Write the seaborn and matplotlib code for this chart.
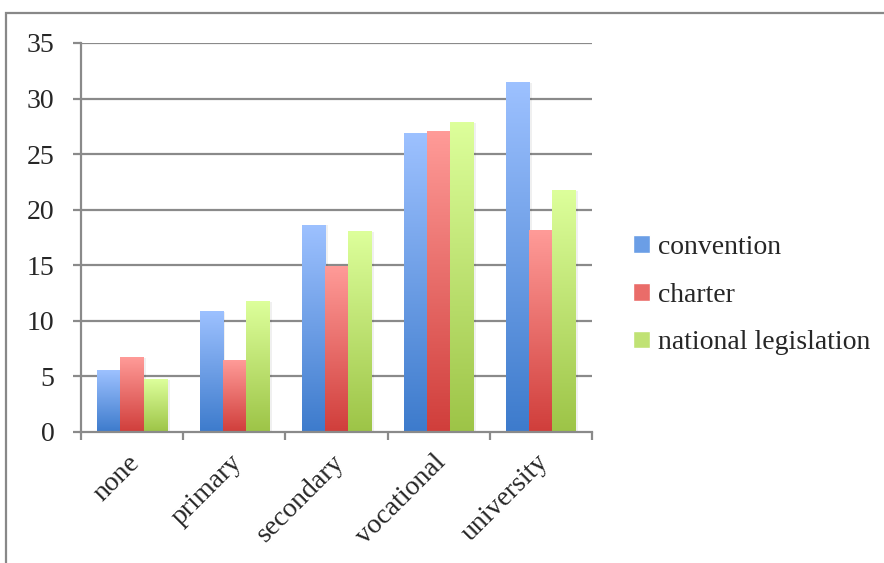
"""
Grouped bar chart: level of education by type of legal instrument.
"""

import numpy as np
import pandas as pd
import seaborn as sns
import matplotlib.pyplot as plt
from matplotlib.colors import LinearSegmentedColormap
from matplotlib.patches import Rectangle
from matplotlib.transforms import ScaledTranslation

# data
categories = ["none", "primary", "secondary", "vocational", "university"]
series = ["convention", "charter", "national legislation"]
convention = [5.5, 10.8, 18.6, 26.9, 31.4]
charter = [6.7, 6.4, 14.9, 27.0, 18.1]
national_legislation = [4.7, 11.7, 18.0, 27.8, 21.7]

# top / bottom colours of each gradient
tops = ["#9dc1ff", "#ff9b98", "#ddff9b"]
bottoms = ["#3d7bcc", "#d03e3b", "#9dc447"]
mids = ["#6b9ee6", "#ea6c69", "#c0e274"]


def long_frame():
    """ Builds the long form table seaborn wants. """
    rows = []
    for name, vals in zip(series, [convention, charter,
                                   national_legislation]):
        for cat, v in zip(categories, vals):
            rows.append({"level": cat, "series": name, "value": v})
    return pd.DataFrame(rows)


def paint_gradients(ax):
    """ Lays a vertical gradient image over every bar. """
    grad = np.linspace(0, 1, 256).reshape(-1, 1)
    for i, container in enumerate(ax.containers):
        cmap = LinearSegmentedColormap.from_list(
            "g%d" % i, [bottoms[i], tops[i]])
        for bar in container:
            x, w, h = bar.get_x(), bar.get_width(), bar.get_height()
            # soft shadow on the right
            ax.add_patch(Rectangle((x + w, 0), w * 0.12, h, color="#000000",
                                   alpha=0.06, lw=0, zorder=2))
            ax.imshow(grad, cmap=cmap, extent=[x, x + w, 0, h],
                      origin="lower", aspect="auto", zorder=3)
            bar.set_alpha(0)


def main():
    sns.set_style("white")
    plt.rcParams["font.family"] = ["Liberation Serif", "DejaVu Serif"]

    data = long_frame()
    fig = plt.figure(figsize=(8.84, 5.63), dpi=100)
    ax = fig.add_axes([0.0916, 0.2327, 0.578, 0.691])

    sns.barplot(data=data, x="level", y="value", hue="series",
                palette=mids, width=0.68, gap=0, ax=ax, legend=False,
                saturation=1)
    paint_gradients(ax)

    ax.set_xlim(-0.5, len(categories) - 0.5)
    ax.set_ylim(0, 35)
    ax.set_yticks(range(0, 36, 5))
    ax.set_xlabel("")
    ax.set_ylabel("")

    # grid and axes in gray
    for y in range(5, 36, 5):
        ax.axhline(y, color="#8a8a8a", lw=1.6, zorder=1)
    for side in ["top", "right"]:
        ax.spines[side].set_visible(False)
    for side in ["left", "bottom"]:
        ax.spines[side].set_color("#8a8a8a")
        ax.spines[side].set_linewidth(1.6)
        ax.spines[side].set_zorder(4)

    ax.tick_params(axis="y", length=6, width=1.6, color="#8a8a8a",
                   labelsize=20, pad=13, left=True)
    ax.tick_params(axis="x", which="major", length=0, labelsize=20, pad=13)
    ax.set_xticks(np.arange(-0.5, len(categories), 1), minor=True)
    ax.tick_params(axis="x", which="minor", length=6, width=1.6,
                   color="#8a8a8a", bottom=True)
    shift = ScaledTranslation(-5 / 100, 0, fig.dpi_scale_trans)
    for label in ax.get_xticklabels():
        label.set_rotation(45)
        label.set_ha("right")
        label.set_rotation_mode("anchor")
        label.set_transform(label.get_transform() + shift)

    # legend
    handles = [Rectangle((0, 0), 1, 1, facecolor=c) for c in mids]
    fig.legend(handles, series, loc="center left",
               bbox_to_anchor=(0.704, 0.476), frameon=False, fontsize=20,
               handlelength=0.6, handleheight=0.6, handletextpad=0.3,
               labelspacing=0.82, borderaxespad=0)

    # outer chart frame
    fig.patches.append(Rectangle((6 / 884, -0.1), 1.2, 1 - 13 / 563 + 0.1,
                                 transform=fig.transFigure, fill=False,
                                 edgecolor="#888888", lw=1.6))

    fig.savefig("out.png", dpi=100)


if __name__ == '__main__':
    main()
